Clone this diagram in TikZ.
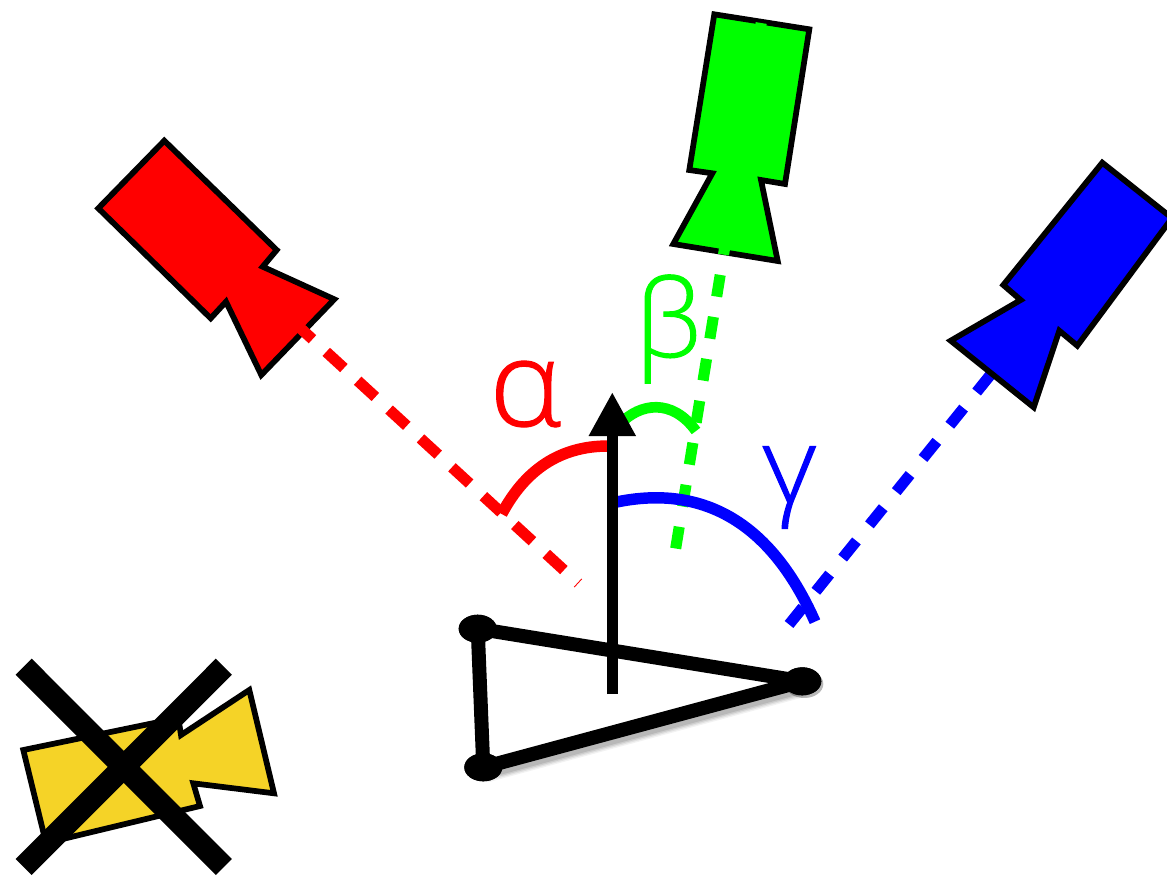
\documentclass[tikz,border=0pt]{standalone}
\usepackage{fontspec}
\setmainfont{Open Sans Light}[FakeBold=1]
\usetikzlibrary{shapes.geometric,arrows.meta}
\definecolor{camyellow}{HTML}{F5D327}
\tikzset{
  px/.style={x=0.75pt,y=-0.75pt},
  cam/.style={draw=black,line width=4.3pt,miter limit=10},
  joint/.style={ellipse,fill=black,inner sep=0pt,minimum width=28.5pt,minimum height=21pt},
  edge3/.style={line width=10.5pt,black},
  greek/.style={inner sep=0pt}
}
\begin{document}
\begin{tikzpicture}[px]
\useasboundingbox (0,0) rectangle (1167,876);
\clip (0,0) rectangle (1167,876);
% coordinates
\coordinate (rs) at (294.8,323);
\coordinate (re) at (578.3,583.3);
\coordinate (gs) at (761.2,23);
\coordinate (ge) at (675.6,549);
\coordinate (bs) at (990.4,374.9);
\coordinate (be) at (789,624.5);
\coordinate (as) at (612.3,694);
\coordinate (at) at (612.3,392);
% blue sight line lies under its camera
\draw[blue,line width=8.3pt,dash pattern=on 16.5pt off 15.5pt] (bs) -- (be);
% cameras
\draw[cam,fill=red] (164.3,140.7) -- (276.7,250) -- (262.7,266.7) -- (334.3,299.3) -- (261.3,375) -- (226,301.7) -- (210.7,318.3) -- (98.3,208.3) -- cycle;
\draw[cam,fill=green] (714.3,14.3) -- (809.3,29.3) -- (785,184) -- (761,180) -- (777.7,261) -- (673.3,244) -- (712.3,173.3) -- (689.3,170) -- cycle;
\draw[cam,fill=blue] (1102.3,162.7) -- (1172,218) -- (1077.3,345.7) -- (1059.3,330.7) -- (1033.7,407.3) -- (950.7,340.7) -- (1020.7,300) -- (1003.3,285) -- cycle;
\draw[cam,fill=camyellow] (23.3,750) -- (178.3,718) -- (181,735) -- (249.3,690) -- (274,793.3) -- (193.3,783.3) -- (200,806) -- (46,843) -- cycle;
% cross
\coordinate (x1) at (23.7,666.7);
\coordinate (x2) at (223.8,867);
\coordinate (x3) at (223.8,666.7);
\coordinate (x4) at (23.7,867);
\draw[black,line width=17pt] (x1) -- (x2);
\draw[black,line width=17pt] (x3) -- (x4);
% sight lines
\draw[red,line width=8.3pt,dash pattern=on 18pt off 14pt] (rs) -- (re);
\draw[green,line width=8.3pt,dash pattern=on 16.5pt off 15.4pt] (gs) -- (ge);
% angle arcs
\draw[red,line width=8.6pt] (501.7,514) .. controls (525,470) and (560,446) .. (608,446);
\draw[green,line width=8pt] (620,424) .. controls (640,403) and (672,398) .. (696,431);
\draw[blue,line width=8.6pt] (612,503) .. controls (700,483) and (770,520) .. (815,621.7);
% triangle
\node[joint] (j1) at (477.7,628.7) {};
\node[joint] (j2) at (802.3,681.3) {};
\node[joint] (j3) at (483.3,767.3) {};
\foreach \w/\o in {17/0.05,15/0.07,13/0.09,11/0.1}{
  \draw[black,opacity=\o,line width=\w pt,transform canvas={xshift=1.5pt,yshift=-3pt}] (j3.center) -- (j2.center);
  \fill[black,opacity=\o,transform canvas={xshift=1.5pt,yshift=-2pt}] (j2.center) ellipse (19 and 14);
}
\draw[edge3] (j1.center) -- (j2.center);
\draw[edge3] (j2.center) -- (j3.center);
\draw[edge3] (j3.center) -- (j1.center);
\node[joint] (j1top) at (j1.center) {};
\node[joint] (j2top) at (j2.center) {};
\node[joint] (j3top) at (j3.center) {};
% heading arrow
\draw[black,line width=8.5pt,-{Triangle[width=33pt,length=33pt]}] (as) -- (at);
% labels
\node[greek,text=red] (alpha) at (525.6,394) {\fontsize{90pt}{90pt}\selectfont\scalebox{1.02}[1]{α}};
\node[greek,text=green] (beta) at (668.3,329) {\fontsize{81pt}{81pt}\selectfont β};
\node[greek,text=blue] (gamma) at (789.3,487.5) {\fontsize{80pt}{80pt}\selectfont\scalebox{1.05}[1]{γ}};
\end{tikzpicture}
\end{document}
